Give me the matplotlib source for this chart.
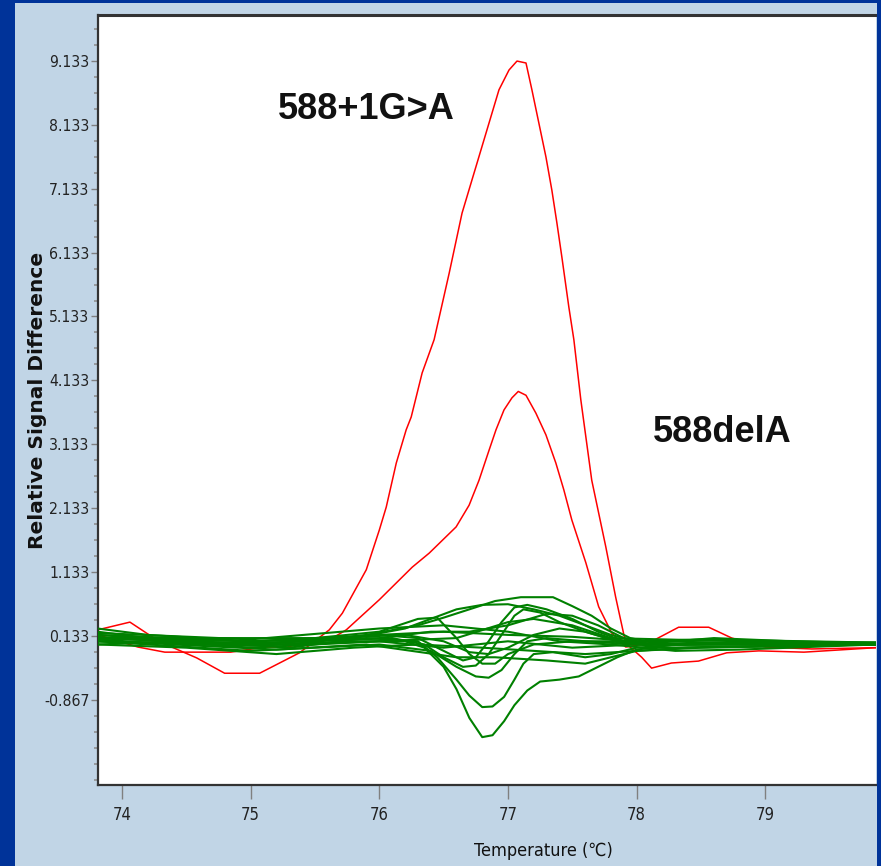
import matplotlib
matplotlib.use('Agg')
import matplotlib.pyplot as plt
from matplotlib.patches import Rectangle
from matplotlib.ticker import FixedLocator, MultipleLocator
from matplotlib import font_manager as fm
from matplotlib.ft2font import FT2Font

# ---------------- data ----------------
x_ticks = [74, 75, 76, 77, 78, 79]
y_ticks = [-0.867, 0.133, 1.133, 2.133, 3.133, 4.133, 5.133, 6.133, 7.133, 8.133, 9.133]
y_tick_labels = ["-0.867", "0.133", "1.133", "2.133", "3.133", "4.133",
                 "5.133", "6.133", "7.133", "8.133", "9.133"]

# 588+1G>A (big red peak)
red_big_t = [73.814, 74.062, 74.295, 74.581, 74.798, 75.070, 75.380, 75.612, 75.713,
             75.899, 76.000, 76.054, 76.132, 76.209, 76.248, 76.333, 76.426, 76.543,
             76.643, 76.814, 76.930, 77.008, 77.070, 77.140, 77.186, 77.240, 77.295,
             77.341, 77.380, 77.419, 77.473, 77.512, 77.566, 77.651, 77.760, 77.837,
             77.915, 78.039, 78.116, 78.270, 78.480, 78.700, 78.950, 79.300, 79.860]
red_big_v = [0.23, 0.35, 0.04, -0.21, -0.45, -0.45, -0.13, 0.23, 0.49,
             1.17, 1.79, 2.15, 2.84, 3.36, 3.56, 4.25, 4.77, 5.81,
             6.75, 7.90, 8.68, 8.99, 9.13, 9.10, 8.68, 8.16, 7.63,
             7.11, 6.60, 6.06, 5.28, 4.77, 3.83, 2.57, 1.53, 0.74,
             0.02, -0.20, -0.37, -0.29, -0.26, -0.13, -0.10, -0.12, -0.05]

# 588delA (smaller red peak)
red_del_t = [73.814, 73.946, 74.124, 74.333, 74.845, 75.109, 75.287, 75.496, 75.636,
             75.744, 76.000, 76.256, 76.388, 76.597, 76.698, 76.775, 76.853, 76.907,
             76.969, 77.031, 77.080, 77.140, 77.217, 77.295, 77.372, 77.434, 77.496,
             77.605, 77.705, 77.806, 77.915, 78.090, 78.326, 78.560, 78.740, 79.000,
             79.360, 79.860]
red_del_v = [0.15, 0.07, -0.04, -0.12, -0.12, -0.04, -0.04, 0.07, 0.10,
             0.23, 0.70, 1.21, 1.43, 1.84, 2.18, 2.57, 3.04, 3.36,
             3.67, 3.86, 3.96, 3.90, 3.62, 3.28, 2.84, 2.42, 1.95,
             1.28, 0.59, 0.18, -0.04, 0.02, 0.27, 0.27, 0.10, -0.04,
             -0.07, -0.05]

# green (wild type) curves
g1_t = [73.81, 74.5, 75.2, 75.8, 76.2, 76.35, 76.5, 76.6, 76.7, 76.8, 76.88, 76.97, 77.05,
        77.15, 77.25, 77.4, 77.55, 77.7, 77.85, 78.0, 78.3, 79.0, 79.86]
g1_v = [0.10, 0.05, 0.0, 0.05, 0.05, -0.05, -0.35, -0.70, -1.15, -1.45, -1.42, -1.20, -0.95,
        -0.72, -0.58, -0.55, -0.50, -0.35, -0.20, -0.08, 0.0, 0.02, 0.03]
g2_t = [73.81, 74.5, 75.3, 75.9, 76.3, 76.45, 76.6, 76.7, 76.8, 76.88, 76.97, 77.05, 77.12,
        77.2, 77.35, 77.6, 77.8, 78.0, 78.5, 79.86]
g2_v = [0.15, 0.05, -0.05, 0.10, 0.05, -0.20, -0.55, -0.80, -0.98, -0.97, -0.82, -0.55, -0.30,
        -0.15, -0.12, -0.20, -0.15, -0.05, 0.02, 0.02]
g3_t = [73.81, 75.0, 76.0, 76.4, 76.6, 76.75, 76.85, 76.95, 77.05, 77.15, 77.3, 77.6, 78.0, 79.86]
g3_v = [0.05, -0.10, 0.0, -0.10, -0.35, -0.50, -0.52, -0.40, -0.15, 0.05, 0.10, 0.05, 0.0, 0.0]
g4_t = [73.81, 74.6, 75.5, 76.1, 76.35, 76.5, 76.65, 76.75, 76.85, 76.95, 77.05, 77.12, 77.25,
        77.4, 77.6, 77.85, 78.2, 79.86]
g4_v = [0.20, 0.0, 0.05, 0.10, 0.0, -0.20, -0.35, -0.33, -0.15, 0.15, 0.45, 0.55, 0.50,
        0.35, 0.20, 0.05, -0.05, 0.0]
g5_t = [73.81, 75.0, 76.0, 76.3, 76.5, 76.65, 76.75, 76.85, 76.95, 77.05, 77.15, 77.3, 77.5,
        77.7, 77.9, 78.2, 79.86]
g5_v = [0.10, 0.0, 0.15, 0.10, -0.10, -0.25, -0.20, 0.05, 0.35, 0.58, 0.62, 0.55, 0.40,
        0.20, 0.05, 0.0, 0.02]
g6_t = [73.81, 74.5, 75.3, 75.9, 76.3, 76.5, 76.7, 76.9, 77.1, 77.35, 77.5, 77.65, 77.8,
        77.95, 78.2, 79.0, 79.86]
g6_v = [0.0, 0.05, 0.0, 0.15, 0.30, 0.42, 0.55, 0.68, 0.74, 0.74, 0.60, 0.45, 0.25,
        0.10, 0.0, 0.02, 0.03]
g7_t = [73.81, 75.0, 75.8, 76.2, 76.4, 76.6, 76.8, 77.0, 77.2, 77.4, 77.6, 77.8, 78.0, 79.86]
g7_v = [0.05, 0.0, 0.10, 0.25, 0.40, 0.55, 0.62, 0.63, 0.55, 0.45, 0.30, 0.15, 0.05, 0.0]
g8_t = [73.81, 75.0, 76.0, 76.4, 76.7, 77.0, 77.3, 77.5, 77.7, 77.9, 78.1, 79.86]
g8_v = [0.10, 0.05, 0.10, 0.20, 0.20, 0.30, 0.48, 0.45, 0.30, 0.10, 0.0, 0.0]
g9_t = [73.81, 75.5, 76.0, 76.3, 76.45, 76.6, 76.7, 76.8, 76.9, 77.0, 77.2, 77.5, 77.8, 78.0, 79.86]
g9_v = [0.10, 0.10, 0.20, 0.40, 0.42, 0.10, -0.15, -0.30, -0.30, -0.15, 0.0, 0.05, 0.05, 0.0, 0.0]
g10_t = [73.81, 75.0, 76.2, 76.5, 76.7, 76.85, 77.0, 77.2, 77.4, 77.6, 77.8, 78.0, 79.86]
g10_v = [0.15, 0.05, 0.15, 0.05, -0.12, -0.15, -0.05, 0.15, 0.25, 0.20, 0.08, 0.0, 0.02]
g11_t = [73.81, 74.2, 75.0, 76.0, 76.5, 77.0, 77.5, 78.0, 78.5, 79.86]
g11_v = [0.25, 0.15, 0.05, 0.15, 0.20, 0.15, 0.12, 0.05, 0.08, 0.03]
g12_t = [73.81, 74.5, 75.2, 75.8, 76.3, 76.8, 77.2, 77.6, 78.0, 78.5, 79.86]
g12_v = [0.0, -0.05, -0.15, -0.05, 0.0, -0.05, -0.10, -0.15, -0.10, -0.05, 0.0]
g13_t = [73.81, 75.0, 76.0, 76.5, 77.0, 77.5, 78.0, 78.6, 79.2, 79.86]
g13_v = [0.12, -0.05, 0.05, -0.05, 0.05, -0.05, 0.0, 0.10, 0.05, 0.02]
g14_t = [73.81, 74.4, 75.2, 75.9, 76.6, 76.9, 77.3, 77.6, 77.8, 78.0, 78.4, 79.86]
g14_v = [0.08, 0.0, -0.08, 0.0, -0.20, -0.20, -0.25, -0.30, -0.20, -0.10, -0.05, 0.0]
g15_t = [73.81, 75.0, 76.0, 76.5, 77.0, 77.4, 77.8, 78.3, 78.8, 79.86]
g15_v = [0.18, 0.08, 0.25, 0.30, 0.20, 0.05, 0.0, -0.10, -0.08, 0.0]
g16_t = [73.81, 75.0, 76.0, 76.6, 77.0, 77.2, 77.5, 77.8, 78.2, 78.8, 79.86]
g16_v = [0.05, -0.02, 0.05, 0.10, 0.35, 0.40, 0.30, 0.10, 0.08, 0.05, 0.02]

green_series = [(g1_t, g1_v), (g2_t, g2_v), (g3_t, g3_v), (g4_t, g4_v),
                (g5_t, g5_v), (g6_t, g6_v), (g7_t, g7_v), (g8_t, g8_v),
                (g9_t, g9_v), (g10_t, g10_v), (g11_t, g11_v), (g12_t, g12_v),
                (g13_t, g13_v), (g14_t, g14_v), (g15_t, g15_v), (g16_t, g16_v)]


# ---------------- fonts ----------------
def pick_narrow_font():
    prefs = ['liberation', 'dejavu', 'roboto', 'open', 'noto', 'lato', 'inter']
    cands = []
    for f in fm.fontManager.ttflist:
        key = (f.name + ' ' + f.fname).lower()
        if ('narrow' in key or 'condensed' in key) and f.style == 'normal' \
                and 'bold' not in key and 'light' not in key and 'thin' not in key:
            rank = next((i for i, p in enumerate(prefs) if p in key), len(prefs))
            cands.append((rank, f.fname))
    if cands:
        cands.sort()
        return cands[0][1]
    return None


narrow_file = pick_narrow_font()
if narrow_file:
    tick_fp = fm.FontProperties(fname=narrow_file)
    try:
        has_celsius = FT2Font(narrow_file).get_char_index(0x2103) != 0
    except Exception:
        has_celsius = False
else:
    tick_fp = fm.FontProperties(family='Liberation Sans')
    has_celsius = False

# ---------------- figure ----------------
W, H = 881, 866
fig = plt.figure(figsize=(W / 100, H / 100), dpi=100)
fig.patch.set_facecolor('#c1d5e6')
renderer = fig.canvas.get_renderer()


def fit_size(text, fp, target_px, max_pt):
    probe = fig.text(0, 0, text, fontproperties=fp, fontsize=10)
    w = probe.get_window_extent(renderer).width
    probe.remove()
    return min(max_pt, 10 * target_px / w)


ytick_size = fit_size('9.133', tick_fp, 40, 16)
xtick_size = fit_size('74', tick_fp, 19, 18)
xlabel_size = fit_size('Temperature (°C)', tick_fp, 140, 18)

border = '#003399'
fig.patches.append(Rectangle((0, 0), 15 / W, 1, transform=fig.transFigure,
                             facecolor=border, edgecolor='none', zorder=0))
fig.patches.append(Rectangle((0, 1 - 3 / H), 1, 3 / H, transform=fig.transFigure,
                             facecolor=border, edgecolor='none', zorder=0))
fig.patches.append(Rectangle((1 - 4 / W, 0), 4 / W, 1, transform=fig.transFigure,
                             facecolor=border, edgecolor='none', zorder=0))

ax = fig.add_axes([98 / W, 1 - 785 / H, 778 / W, 770 / H])
ax.set_facecolor('white')

ax.plot(red_big_t, red_big_v, color='#ff0000', lw=1.1, zorder=2)
ax.plot(red_del_t, red_del_v, color='#ff0000', lw=1.1, zorder=2)
for t, v in green_series:
    ax.plot(t, v, color='#008000', lw=1.5, zorder=3)

ax.set_xlim(73.814, 79.86)
ax.set_ylim(-2.199, 9.851)

ax.xaxis.set_major_locator(FixedLocator(x_ticks))
ax.set_xticklabels([str(v) for v in x_ticks], fontproperties=tick_fp,
                   fontsize=xtick_size, color='#222222')
ax.yaxis.set_major_locator(FixedLocator(y_ticks))
ax.set_yticklabels(y_tick_labels, fontproperties=tick_fp,
                   fontsize=ytick_size, color='#222222')
ax.yaxis.set_minor_locator(MultipleLocator(0.25, offset=0.133))

ax.tick_params(axis='x', which='major', direction='out', length=10, width=1,
               color='#808080', pad=5)
ax.tick_params(axis='y', which='major', direction='out', length=5, width=1,
               color='#808080', pad=1)
ax.tick_params(axis='y', which='minor', direction='out', length=3, width=1.2,
               color='#909090')

for side in ['left', 'bottom']:
    ax.spines[side].set_color('#333333')
    ax.spines[side].set_linewidth(1.6)
ax.spines['top'].set_color('#333333')
ax.spines['top'].set_linewidth(2.2)
ax.spines['right'].set_visible(False)

fig.text(38 / W, 1 - 400 / H, 'Relative Signal Difference', rotation=90,
         ha='center', va='center', fontsize=14.5, fontweight='bold',
         family='DejaVu Sans', color='#111111')

if has_celsius or not narrow_file:
    xlab_kw = dict(fontproperties=tick_fp) if narrow_file else dict(family=['Liberation Sans', 'DejaVu Sans'])
else:
    xlab_kw = dict(family=[tick_fp.get_name(), 'DejaVu Sans'])
fig.text(543 / W, 1 - 851 / H, 'Temperature (℃)', ha='center', va='center',
         fontsize=xlabel_size, color='#111111', **xlab_kw)

ax.text(75.21, 8.365, '588+1G>A', ha='left', va='center', fontsize=26,
        fontweight='bold', family='Liberation Sans', color='#111111')
ax.text(78.13, 3.325, '588delA', ha='left', va='center', fontsize=26,
        fontweight='bold', family='Liberation Sans', color='#111111')

fig.savefig('out.png', dpi=100, facecolor=fig.get_facecolor())
